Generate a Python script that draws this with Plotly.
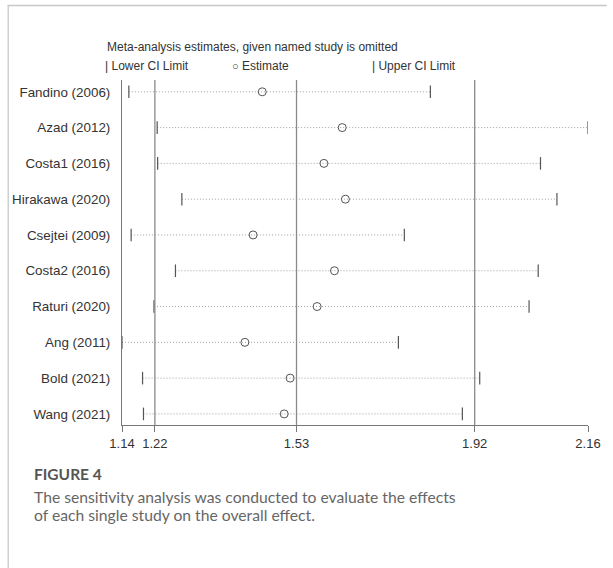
import plotly.graph_objects as go

studies = ["Fandino (2006)", "Azad (2012)", "Costa1 (2016)", "Hirakawa (2020)", "Csejtei (2009)",
           "Costa2 (2016)", "Raturi (2020)", "Ang (2011)", "Bold (2021)", "Wang (2021)"]
lower = [1.163, 1.225, 1.226, 1.279, 1.168, 1.265, 1.218, 1.148, 1.193, 1.195]
estimate = [1.455, 1.630, 1.590, 1.637, 1.435, 1.613, 1.575, 1.417, 1.516, 1.503]
upper = [1.823, 2.168, 2.064, 2.100, 1.766, 2.059, 2.039, 1.753, 1.931, 1.893]
ref_lines = [1.22, 1.53, 1.92]
tick_vals = [1.148, 1.22, 1.53, 1.92, 2.168]
tick_text = ["1.14", "1.22", "1.53", "1.92", "2.16"]

W, H = 613, 568
L, R, T, B = 121, 19, 80, 143
pw, ph = W - L - R, H - T - B


def px(x):
    return (x - L) / pw


def py(y):
    return (H - B - y) / ph


fig = go.Figure()

# dotted connectors
cx, cy = [], []
for s, lo, up in zip(studies, lower, upper):
    cx += [lo, up, None]
    cy += [s, s, None]
fig.add_trace(go.Scatter(x=cx, y=cy, mode="lines",
                         line=dict(color="#a0a0a0", width=1, dash="1px,2px"),
                         hoverinfo="skip", showlegend=False))

fig.add_trace(go.Scatter(x=lower, y=studies, mode="markers",
                         marker=dict(symbol="line-ns", size=9, line=dict(color="#555", width=1.2)),
                         showlegend=False))
fig.add_trace(go.Scatter(x=upper, y=studies, mode="markers",
                         marker=dict(symbol="line-ns", size=9, line=dict(color="#555", width=1.2)),
                         showlegend=False))
fig.add_trace(go.Scatter(x=estimate, y=studies, mode="markers",
                         marker=dict(symbol="circle-open", size=8, color="#555",
                                     line=dict(color="#555", width=1)),
                         showlegend=False))

for v in ref_lines:
    fig.add_shape(type="line", xref="x", yref="paper", x0=v, x1=v, y0=0, y1=1,
                  line=dict(color="#8a8a8a", width=1.3))

# outer frame (top and left edges)
fig.add_shape(type="line", xref="paper", yref="paper",
              x0=px(5), x1=px(613), y0=py(5.5), y1=py(5.5),
              line=dict(color="#c8c8c8", width=1.3))
fig.add_shape(type="line", xref="paper", yref="paper",
              x0=px(5.5), x1=px(5.5), y0=py(5), y1=py(568),
              line=dict(color="#c8c8c8", width=1.3))

tickf = dict(family="Liberation Sans, Arial, sans-serif", size=13, color="#333")
yf = dict(family="Liberation Sans, Arial, sans-serif", size=13.4, color="#333")
legf = dict(family="Liberation Sans, Arial, sans-serif", size=12, color="#333")

fig.add_annotation(xref="paper", yref="paper", x=px(104), y=py(47), xanchor="left", yanchor="middle",
                   text="Meta-analysis estimates, given named study is omitted", showarrow=False, font=legf)
fig.add_annotation(xref="paper", yref="paper", x=px(102), y=py(66), xanchor="left", yanchor="middle",
                   text="| Lower CI Limit", showarrow=False, font=legf)
fig.add_annotation(xref="paper", yref="paper", x=px(231), y=py(66), xanchor="left", yanchor="middle",
                   text="<span style='font-size:11px'>○</span> Estimate", showarrow=False, font=legf)
fig.add_annotation(xref="paper", yref="paper", x=px(373), y=py(66), xanchor="left", yanchor="middle",
                   text="| Upper CI Limit", showarrow=False, font=legf)

fig.add_annotation(xref="paper", yref="paper", x=px(30), y=py(474), xanchor="left", yanchor="middle",
                   text="FIGURE 4", showarrow=False,
                   font=dict(family="Lato", size=15.5, color="#555", weight="bold"))
fig.add_annotation(xref="paper", yref="paper", x=px(30), y=py(497), xanchor="left", yanchor="middle",
                   text="The sensitivity analysis was conducted to evaluate the effects",
                   showarrow=False, font=dict(family="Lato", size=15.7, color="#666"))
fig.add_annotation(xref="paper", yref="paper", x=px(30), y=py(515), xanchor="left", yanchor="middle",
                   text="of each single study on the overall effect.",
                   showarrow=False, font=dict(family="Lato", size=15.7, color="#666"))

fig.update_layout(
    width=W, height=H, margin=dict(l=L, r=R, t=T, b=B),
    paper_bgcolor="white", plot_bgcolor="white",
    xaxis=dict(range=[tick_vals[0], tick_vals[-1]], tickvals=tick_vals, ticktext=tick_text,
               showgrid=False, zeroline=False, showline=True, linecolor="#777", linewidth=1,
               ticks="outside", ticklen=6, tickcolor="#777", tickfont=tickf),
    yaxis=dict(categoryorder="array", categoryarray=studies, autorange=False,
               range=[9.31, -0.33], showgrid=False, zeroline=False, showline=True,
               linecolor="#777", linewidth=1, ticks="", ticklabelstandoff=8, tickfont=yf),
)

fig.write_html("out.html", config={"displayModeBar": False},
               post_script="document.body.style.margin='0';document.body.style.padding='0';")
